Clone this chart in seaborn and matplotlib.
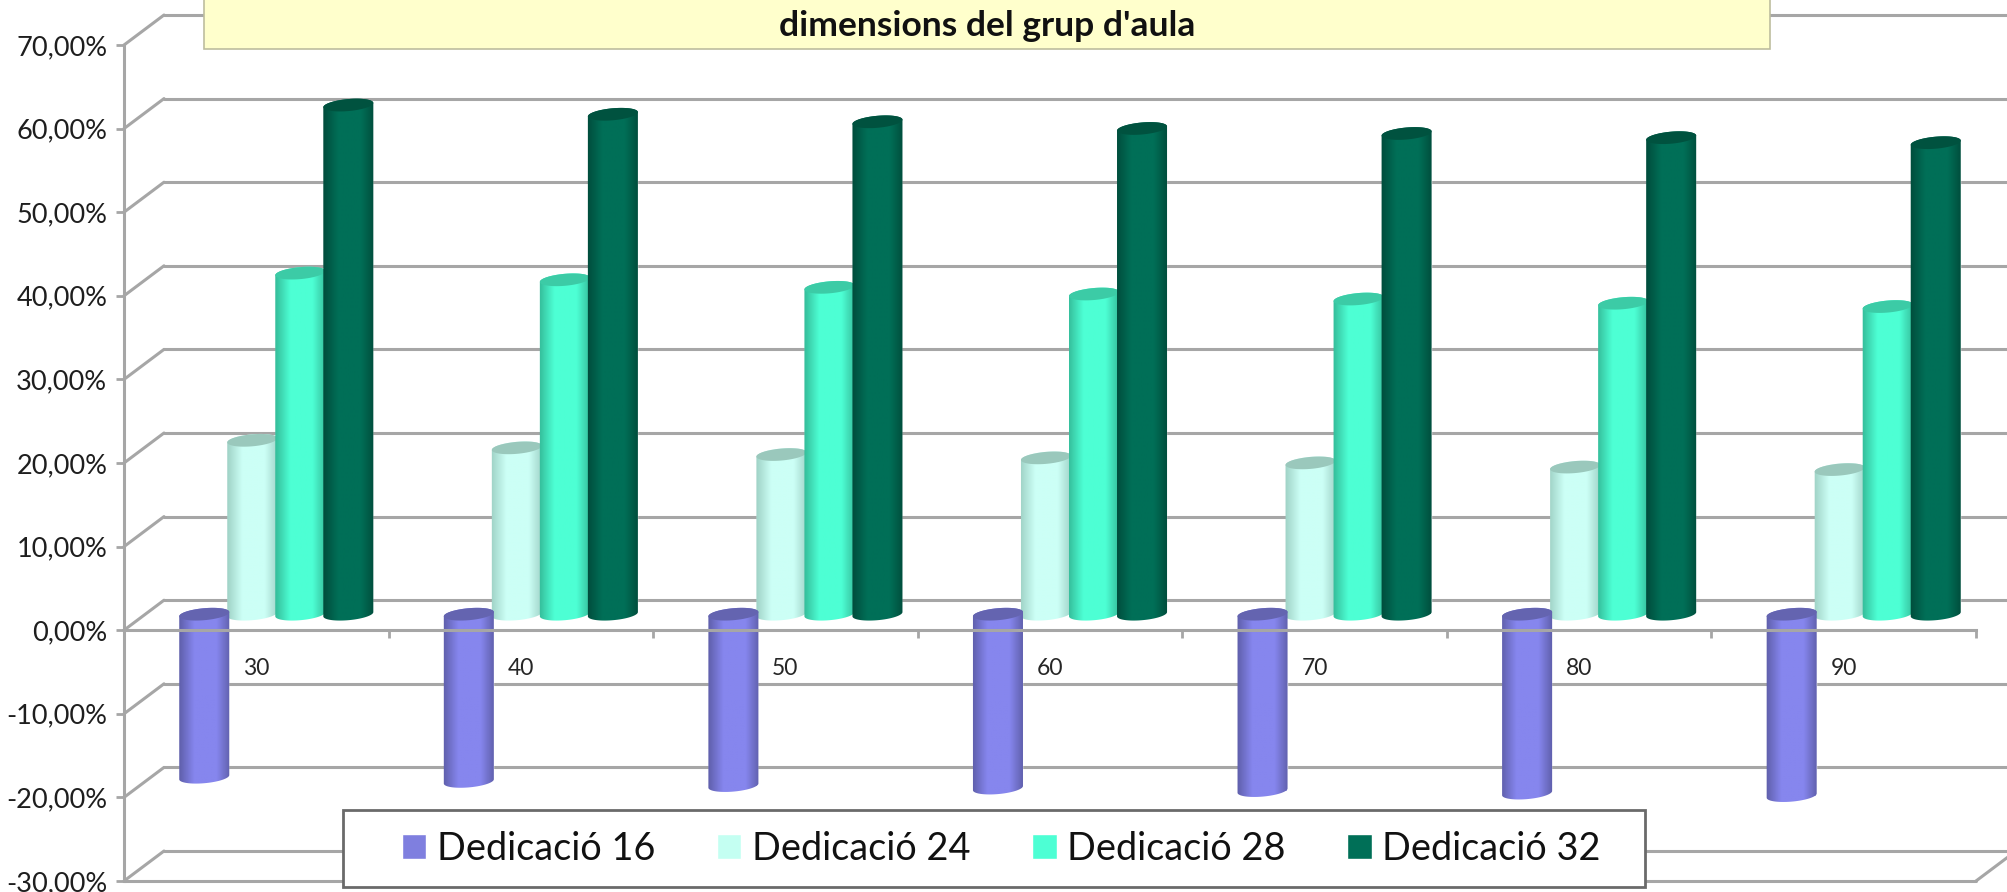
import numpy as np
import pandas as pd
import matplotlib.pyplot as plt
import seaborn as sns
from matplotlib.colors import to_rgb
from matplotlib.lines import Line2D
from matplotlib.patches import Polygon, Rectangle
from matplotlib.transforms import IdentityTransform

# --- Data ---
groups = ["30", "40", "50", "60", "70", "80", "90"]
series = ["Dedicació 16", "Dedicació 24", "Dedicació 28", "Dedicació 32"]
ded16 = [-19.5, -20.0, -20.5, -20.8, -21.1, -21.4, -21.7]
ded24 = [20.8, 19.9, 19.1, 18.7, 18.1, 17.6, 17.3]
ded28 = [40.8, 40.0, 39.1, 38.3, 37.7, 37.2, 36.8]
ded32 = [60.9, 59.8, 58.9, 58.1, 57.5, 57.0, 56.4]
y_ticks = [-30, -20, -10, 0, 10, 20, 30, 40, 50, 60, 70]
title = "dimensions del grup d'aula"

# main, edge and cap colour of each cylinder
main_colors = ["#8686EE", "#CCFFF6", "#4DFFD4", "#006F57"]
edge_colors = ["#5C5CA6", "#9CCFC3", "#33B896", "#004A3A"]
cap_colors = ["#6464B0", "#9AC8BC", "#3CCBA6", "#00523F"]
legend_colors = ["#7F7FDF", "#C4FFF2", "#4DFFD4", "#006F57"]

W, H = 2007, 892
GRID = "#A6A6A6"
TEXT = "#1E1E1E"

sns.set_theme(style="white")
plt.rcParams["font.family"] = ["Lato", "DejaVu Sans"]

fig = plt.figure(figsize=(W / 100, H / 100), dpi=100, facecolor="white")


def axes_at(left, top, right, bottom, zorder):
    # axes box given in picture pixels
    ax = fig.add_axes([left / W, 1 - bottom / H, (right - left) / W, (bottom - top) / H], zorder=zorder)
    ax.patch.set_visible(False)
    return ax


ax_wall = axes_at(164, 15, 2016, 851, 1)
ax_bar = axes_at(144, 29, 1996, 865, 2)
ax_front = axes_at(124, 45, 1976, 881, 3)

# --- Back wall ---
for ax in [ax_wall, ax_bar, ax_front]:
    ax.set_xlim(-0.5, 6.5)
    ax.set_ylim(-30, 70)
ax_wall.set_yticks(y_ticks)
ax_wall.set_xticks([])
ax_wall.set_yticklabels([])
ax_wall.grid(axis="y", color=GRID, linewidth=2.2)
for line in ax_wall.get_ygridlines():
    line.set_clip_on(False)
ax_wall.tick_params(left=False)
sns.despine(ax=ax_wall, left=True, bottom=True)

# --- Bars ---
df = pd.DataFrame({
    "grup": groups * 4,
    "valor": ded16 + ded24 + ded28 + ded32,
    "serie": np.repeat(series, len(groups)),
})
sns.barplot(data=df, x="grup", y="valor", hue="serie", order=groups, hue_order=series,
            palette=legend_colors, width=0.726, gap=0, saturation=1, ax=ax_bar, zorder=2)
handles, labels = ax_bar.get_legend_handles_labels()
ax_bar.get_legend().remove()
ax_bar.set_xlim(-0.5, 6.5)
ax_bar.set_ylim(-30, 70)
ax_bar.set_autoscale_on(False)
ax_bar.axis("off")


def arc(cx, cy, a, t0, t1):
    # tilted ellipse arc in pixels, rises a little to the right
    t = np.linspace(t0, t1, 60)
    return np.column_stack([cx + a * np.cos(t), cy + 0.085 * a * np.cos(t) + 6 * np.sin(t)])


def cylinder(bar, main, edge, cap, zorder):
    x0, x1 = bar.get_x(), bar.get_x() + bar.get_width()
    y_low, y_high = sorted([bar.get_y(), bar.get_y() + bar.get_height()])
    (px0, py_low), (px1, py_high) = ax_bar.transData.transform([(x0, y_low), (x1, y_high)])
    cx, a = (px0 + px1) / 2, (px1 - px0) / 2 + 1
    body = np.vstack([arc(cx, py_high, a, 0, np.pi), arc(cx, py_low, a, np.pi, 2 * np.pi)])

    pos = np.array([0, 0.3, 0.5, 0.72, 1])
    shades = np.array([to_rgb(edge), to_rgb(main), to_rgb(main), to_rgb(main), to_rgb(edge)])
    u = np.linspace(0, 1, 64)
    grad = np.stack([np.interp(u, pos, shades[:, i]) for i in range(3)], axis=1)[None, :, :]
    im = ax_bar.imshow(grad, extent=(x0 - 0.01, x1 + 0.01, y_low - 3, y_high + 3),
                       aspect="auto", interpolation="bilinear", zorder=zorder)
    im.set_clip_path(Polygon(body, closed=True, transform=IdentityTransform()))
    ax_bar.add_patch(Polygon(arc(cx, py_high, a, 0, 2 * np.pi), closed=True, facecolor=cap,
                             edgecolor="none", transform=IdentityTransform(), zorder=zorder + 0.1))


# light first, purple last so its cap sits over the light cylinder
draw_zorder = [9, 3, 5, 7]
for container, main, edge, cap, z in zip(ax_bar.containers, main_colors, edge_colors, cap_colors, draw_zorder):
    for bar in container:
        cylinder(bar, main, edge, cap, z)

# --- Front axes ---
ax_front.set_yticks(y_ticks)
ax_front.set_yticklabels([f"{v},00%" for v in y_ticks], color=TEXT)
ax_front.set_xticks(np.arange(-0.5, 7, 1))
ax_front.set_xticklabels([])
ax_front.set_xticks(np.arange(7), labels=groups, minor=True, color=TEXT)
ax_front.tick_params(axis="y", left=True, length=6, width=2, color=GRID, pad=6, labelsize=19.5)
ax_front.tick_params(axis="x", which="major", bottom=True, length=6, width=2, color=GRID)
ax_front.tick_params(axis="x", which="minor", bottom=False, length=0, pad=20, labelsize=16.5)
for side in ["top", "right"]:
    ax_front.spines[side].set_visible(False)
ax_front.spines["left"].set_color(GRID)
ax_front.spines["left"].set_linewidth(2.2)
ax_front.spines["bottom"].set_color(GRID)
ax_front.spines["bottom"].set_linewidth(2.2)
ax_front.spines["bottom"].set_position(("data", 0))
ax_front.axhline(-30, color=GRID, linewidth=2.2, clip_on=False)

# side wall and floor edges join the front axes to the back wall
for v in y_ticks:
    p0 = ax_front.transData.transform((-0.5, v))
    p1 = ax_wall.transData.transform((-0.5, v))
    fig.add_artist(Line2D([p0[0], p1[0]], [p0[1], p1[1]], color=GRID, linewidth=2.2,
                          transform=IdentityTransform(), zorder=0.5))
p0 = ax_front.transData.transform((6.5, -30))
p1 = ax_wall.transData.transform((6.5, -30))
fig.add_artist(Line2D([p0[0], p1[0]], [p0[1], p1[1]], color=GRID, linewidth=2.2,
                      transform=IdentityTransform(), zorder=0.5))

# --- Legend ---
fig.add_artist(Rectangle((343 / W, 1 - 887 / H), (1645 - 343) / W, 77 / H, facecolor="white",
                         edgecolor="#6A6A6A", linewidth=2, transform=fig.transFigure, zorder=20))
leg = fig.legend(handles, labels, ncol=4, loc="center left",
                 bbox_to_anchor=(402 / W, 1 - 849 / H), borderaxespad=0, borderpad=0, fontsize=27.3,
                 handlelength=0.64, handleheight=0.61, handletextpad=0.28, columnspacing=1.63,
                 frameon=False, labelcolor="#111111")
leg.set_zorder(21)

# --- Title box ---
fig.add_artist(Rectangle((204 / W, 1 - 49 / H), (1770 - 204) / W, 60 / H, facecolor="#FFFFCC",
                         edgecolor="#BDBD9E", linewidth=1.2, transform=fig.transFigure, zorder=10))
fig.text(987 / W, 1 - 26 / H, title, ha="center", va="center", fontsize=25.5, fontweight="bold",
         color="#111111", zorder=11)

fig.savefig("out.png", dpi=100)
